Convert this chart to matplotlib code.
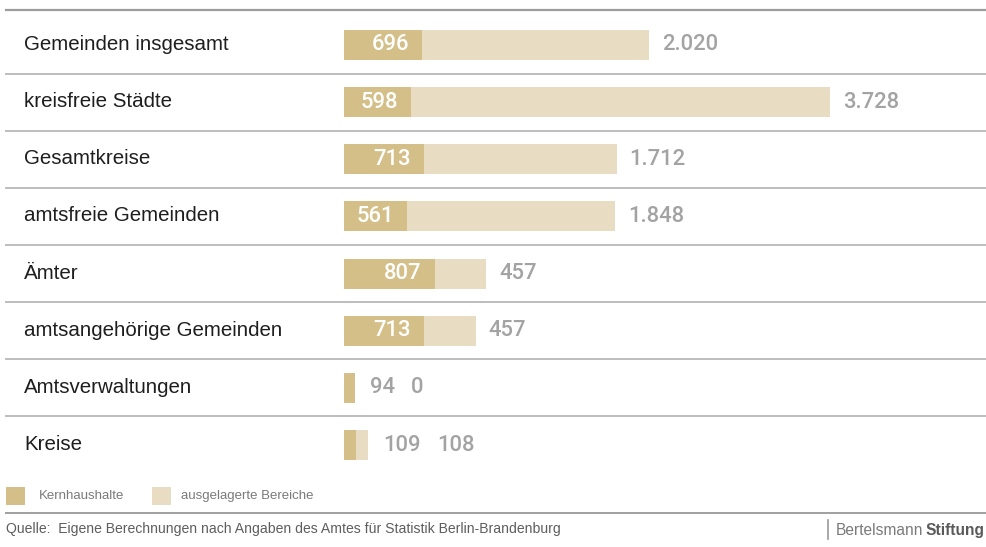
import matplotlib
matplotlib.use("Agg")
import matplotlib.pyplot as plt
from matplotlib.patches import Rectangle
from matplotlib.lines import Line2D
from matplotlib.transforms import blended_transform_factory

plt.rcParams["font.family"] = ["Liberation Sans", "DejaVu Sans"]

# Ausgaben je Einwohner nach Haushaltstyp
categories = [
    "Gemeinden insgesamt",
    "kreisfreie Städte",
    "Gesamtkreise",
    "amtsfreie Gemeinden",
    "Ämter",
    "amtsangehörige Gemeinden",
    "Amtsverwaltungen",
    "Kreise",
]
kernhaushalte = [696, 598, 713, 561, 807, 713, 94, 109]
ausgelagert = [2020, 3728, 1712, 1848, 457, 457, 0, 108]
legend_labels = ["Kernhaushalte", "ausgelagerte Bereiche"]
source_text = "Quelle:  Eigene Berechnungen nach Angaben des Amtes für Statistik Berlin-Brandenburg"

DARK = "#D4BF89"
LIGHT = "#E8DDC2"
NUM_GREY = "#A3A3A3"
TEXT = "#1E1E1E"
NUM_FONT = ["Roboto", "Liberation Sans", "DejaVu Sans"]

W, H = 986, 547
fig = plt.figure(figsize=(W / 100, H / 100), dpi=100)
fig.patch.set_facecolor("white")


def fx(px):
    return px / W


def fy(py):
    return 1 - py / H


def pt(px):
    return px * 0.72


# bar area: starts at x=344px, rows from y=16.4px to 473.6px
top_px, bot_px = 16.4, 473.6
ax = fig.add_axes([fx(344), fy(bot_px), 1 - fx(344), (bot_px - top_px) / H])
px_per_unit = 0.1124
ax.set_xlim(0, (W - 344) / px_per_unit)
ax.set_ylim(len(categories) - 0.5, -0.5)
ax.axis("off")

ypos = list(range(len(categories)))
bar_h = 30 / 57.15
ax.barh(ypos, kernhaushalte, height=bar_h, color=DARK, linewidth=0)
ax.barh(ypos, ausgelagert, left=kernhaushalte, height=bar_h, color=LIGHT, linewidth=0)


def fmt(v):
    return f"{v:,}".replace(",", ".")


num_kw = dict(fontsize=pt(22), family=NUM_FONT, fontweight="medium", va="center")
for i, (k, a) in enumerate(zip(kernhaushalte, ausgelagert)):
    total = k + a
    if k * px_per_unit > 45:
        ax.annotate(fmt(k), xy=(k, i), xytext=(-pt(13), 0), textcoords="offset points",
                    ha="right", color="white", **num_kw)
        ax.annotate(fmt(a), xy=(total, i), xytext=(pt(13), 0), textcoords="offset points",
                    ha="left", color=NUM_GREY, **num_kw)
    else:
        t1 = ax.annotate(fmt(k), xy=(total, i), xytext=(pt(15), 0), textcoords="offset points",
                         ha="left", color=NUM_GREY, **num_kw)
        ax.annotate(fmt(a), xy=(1, 0.5), xycoords=t1, xytext=(pt(16), 0),
                    textcoords="offset points", ha="left", color=NUM_GREY, **num_kw)

# category labels and row separators
trans = blended_transform_factory(fig.transFigure, ax.transData)
for i, cat in enumerate(categories):
    ax.text(fx(24), i - 0.01, cat, transform=trans, ha="left", va="center",
            color=TEXT, fontsize=pt(20.5))
for i in range(len(categories) - 1):
    ax.add_line(Line2D([fx(6), 1.0], [i + 0.5, i + 0.5], transform=trans,
                       color="#BDBDBD", linewidth=1.4, clip_on=False))

# top rule
fig.add_artist(Line2D([fx(6), 1.0], [fy(10), fy(10)], color="#9C9C9C", linewidth=1.6))

# legend
leg_colors = [DARK, LIGHT]
leg_box_x = [6, 152]
leg_text_x = [39, 181]
for bx, tx, col, lab in zip(leg_box_x, leg_text_x, leg_colors, legend_labels):
    fig.add_artist(Rectangle((fx(bx), fy(505)), fx(19), 18 / H, transform=fig.transFigure,
                             facecolor=col, edgecolor="none"))
    fig.text(fx(tx), fy(496), lab, ha="left", va="center", color="#7A7A7A",
             fontsize=pt(13.2))

# bottom rule and source
fig.add_artist(Line2D([fx(6), 1.0], [fy(513), fy(513)], color="#A0A0A0", linewidth=1.4))
fig.text(fx(6), fy(529), source_text, ha="left", va="center", color="#5E5E5E",
         fontsize=pt(14))

# publisher mark: two words sharing one baseline
fig.add_artist(Line2D([fx(828), fx(828)], [fy(520), fy(539)], color="#9A9A9A", linewidth=1.2))
t_b = fig.text(fx(836), fy(535), "Bertelsmann", ha="left", va="baseline", color="#7A7A7A",
               fontsize=pt(15.5))
fig.canvas.draw()
b_right = t_b.get_window_extent().x1
fig.text((b_right + 2) / W, fy(535), "Stiftung", ha="left", va="baseline", color="#5A5A5A",
         fontsize=pt(15.5), fontweight="bold")

fig.savefig("out.png", dpi=100, facecolor="white")
